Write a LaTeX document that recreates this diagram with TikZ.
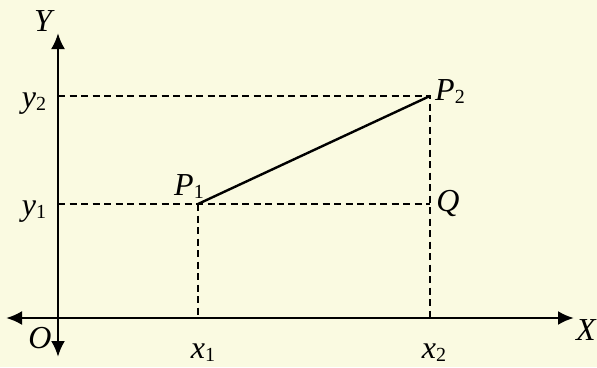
\documentclass[tikz,border=0pt]{standalone}
\usepackage{fontspec}
\setmainfont{Liberation Serif}
\usetikzlibrary{arrows.meta}
\newcommand{\mylbl}[2]{{\fontsize{32}{34}\selectfont\itshape #1}\raisebox{-0.3em}{\fontsize{20}{22}\selectfont #2}}
\begin{document}
\begin{tikzpicture}[x=1pt,y=-1pt,
  axis/.style={line width=2.6pt,{Latex[length=16pt,width=14pt]}-{Latex[length=16pt,width=14pt]}},
  dashline/.style={line width=2pt,dash pattern=on 7pt off 4.5pt},
  seg/.style={line width=2.4pt},
  lbl/.style={inner sep=0pt,font=\fontsize{32}{34}\selectfont\itshape}]
\fill[fill={rgb,255:red,250;green,250;blue,225}] (0,0) rectangle (597,367);
\useasboundingbox (0,0) rectangle (597,367);
\coordinate (ytop) at (58,33);
\coordinate (ybot) at (58,357);
\coordinate (xl) at (6,318);
\coordinate (xr) at (574,318);
\coordinate (ya) at (58,96);
\coordinate (yb) at (58,204);
\coordinate (P1) at (198,204);
\coordinate (P2) at (430,96);
\coordinate (Q) at (430,204);
\coordinate (X1) at (198,318);
\coordinate (X2) at (430,318);
\draw[axis] (ybot) -- (ytop);
\draw[axis] (xl) -- (xr);
\draw[dashline] (ya) -- (P2) -- (X2);
\draw[dashline] (yb) -- (Q);
\draw[dashline] (P1) -- (X1);
\draw[seg] (P1) -- (P2);
\node[lbl] (lY) at (43,21) {Y};
\node[lbl] (lX) at (586,330) {X};
\node[lbl] (lO) at (40,338) {O};
\node[lbl] (lQ) at (448,203) {Q};
\node[inner sep=0pt] (ly2) at (34,104) {\mylbl{y}{2}};
\node[inner sep=0pt] (ly1) at (34,212) {\mylbl{y}{1}};
\node[inner sep=0pt] (lP1) at (189,187) {\mylbl{P}{1}};
\node[inner sep=0pt] (lP2) at (450,92) {\mylbl{P}{2}};
\node[inner sep=0pt] (lx1) at (203,353) {\mylbl{x}{1}};
\node[inner sep=0pt] (lx2) at (434,353) {\mylbl{x}{2}};
\end{tikzpicture}
\end{document}
